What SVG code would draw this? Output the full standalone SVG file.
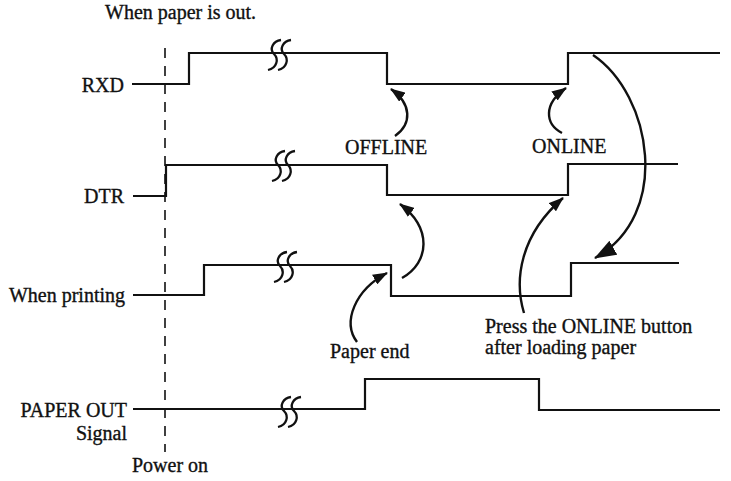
<svg xmlns="http://www.w3.org/2000/svg" width="731" height="481" viewBox="0 0 731 481">
<style>
text{font-family:"Liberation Serif","Times New Roman",serif;font-size:20px;fill:#111;stroke:#111;stroke-width:0.35}
.sig{fill:none;stroke:#111;stroke-width:2.2;stroke-linejoin:miter}
.brk{fill:none;stroke:#111;stroke-width:2.3}
.arr{fill:none;stroke:#111;stroke-width:2.4}
.end{text-anchor:end}
</style>
<defs>
<marker id="ah" markerUnits="userSpaceOnUse" markerWidth="15" markerHeight="11" refX="14" refY="5.5" orient="auto">
<path d="M0,0 L15,5.5 L0,11 z" fill="#111"/>
</marker>
<marker id="ahL" markerUnits="userSpaceOnUse" markerWidth="22" markerHeight="16" refX="21" refY="8" orient="auto">
<path d="M0,0 L22,8 L0,16 z" fill="#111"/>
</marker>
<path id="sq" d="M7,-15 C-1,-14 -5,-6 0,-1 C5,4 3,13 -6,15"/>
</defs>

<text x="105" y="19">When paper is out.</text>

<g id="powerOn">
<line x1="165" y1="48" x2="165" y2="452" stroke="#111" stroke-width="1.6" stroke-dasharray="10 8"/>
<text x="132" y="472">Power on</text>
</g>

<g id="rxd">
<text class="end" x="124" y="92">RXD</text>
<path class="sig" d="M132,84 H189 V53 H387 V84 H568 V53 H720"/>
<use href="#sq" class="brk" x="274" y="55"/>
<use href="#sq" class="brk" x="284" y="55"/>
</g>

<g id="dtr">
<text class="end" x="124" y="203">DTR</text>
<path class="sig" d="M133,196 H166 V165 H387 V195 H568 V164 H678"/>
<use href="#sq" class="brk" x="278" y="166"/>
<use href="#sq" class="brk" x="288" y="166"/>
</g>

<g id="printing">
<text class="end" x="125" y="302">When printing</text>
<path class="sig" d="M133,295 H204 V265 H391 V296 H571 V263 H679"/>
<use href="#sq" class="brk" x="280" y="267"/>
<use href="#sq" class="brk" x="290" y="267"/>
</g>

<g id="paperOut">
<text class="end" x="127" y="417">PAPER OUT</text>
<text class="end" x="127" y="440">Signal</text>
<path class="sig" d="M133,409 H365 V379 H539 V410 H720"/>
<use href="#sq" class="brk" x="284" y="412"/>
<use href="#sq" class="brk" x="294" y="412"/>
</g>

<g id="labels">
<text x="345" y="154">OFFLINE</text>
<text x="532" y="153">ONLINE</text>
<text x="330" y="358">Paper end</text>
<text x="485" y="333">Press the ONLINE button</text>
<text x="485" y="354">after loading paper</text>
</g>

<g id="connectors">
<path class="arr" d="M395,136 C412,124 412,104 391,89" marker-end="url(#ah)"/>
<path class="arr" d="M562,133 C545,124 543,104 566,88" marker-end="url(#ah)"/>
<path class="arr" d="M593,55 C652,95 672,215 595,258" marker-end="url(#ahL)"/>
<path class="arr" d="M402,278 C430,262 432,228 400,204" marker-end="url(#ah)"/>
<path class="arr" d="M357,342 C342,322 355,290 387,273" marker-end="url(#ah)"/>
<path class="arr" d="M524,313 C514,280 520,235 563,198" marker-end="url(#ah)"/>
</g>
</svg>
